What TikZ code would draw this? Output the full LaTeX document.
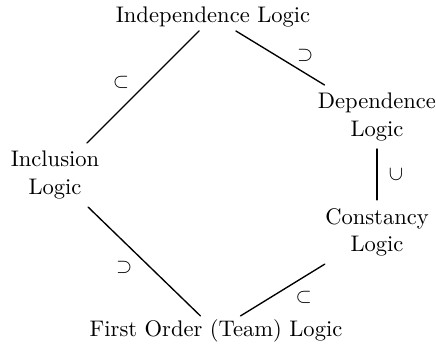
\documentclass[tikz,border=0pt]{standalone}
\usepackage{amssymb}

\begin{document}
\begin{tikzpicture}[
  x=0.0156cm, y=-0.0156cm,
  line cap=round, line join=round,
  every node/.style={inner sep=1.5pt},
  logic/.style={align=center, inner sep=1.5pt},
  twoline/.style={logic, inner sep=3.5pt},
  incl/.style={line width=0.6pt, draw=black},
  rel/.style={inner sep=0pt, font=\small},
]
\useasboundingbox (0,0) rectangle (436,354);
\node[logic] (indep) at (213,17) {Independence Logic};
\node[twoline] (dep) at (377,117) {Dependence\\Logic};
\node[twoline] (incl) at (55,175) {Inclusion\\Logic};
\node[twoline] (const) at (377,232) {Constancy\\Logic};
\node[logic] (fo) at (216,331) {First Order (Team) Logic};
\draw[incl] (indep) -- node[rel, midway, xshift=-22pt*0.443, yshift=5pt*0.443] {$\subset$} (incl);
\draw[incl] (indep) -- node[rel, midway, xshift=25pt*0.443, yshift=3pt*0.443] {$\supset$} (dep);
\draw[incl] (dep) -- node[rel, midway, xshift=19pt*0.443] {\rotatebox{90}{$\subset$}} (const);
\draw[incl] (incl) -- node[rel, midway, xshift=-20pt*0.443, yshift=-6pt*0.443] {$\supset$} (fo);
\draw[incl] (const) -- node[rel, midway, xshift=21pt*0.443, yshift=-7pt*0.443] {$\subset$} (fo);
\end{tikzpicture}
\end{document}
